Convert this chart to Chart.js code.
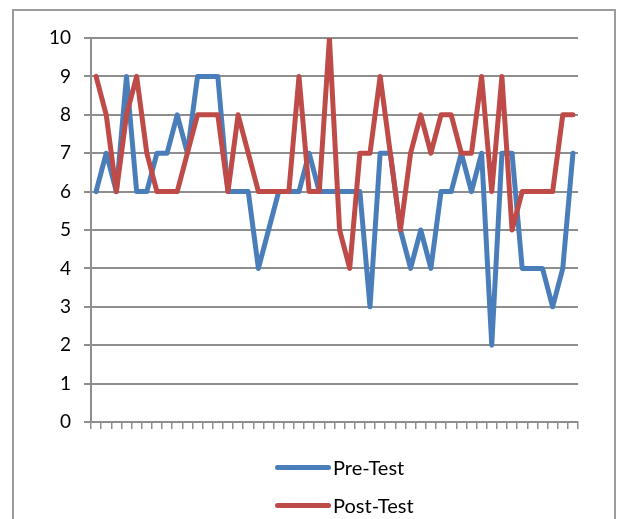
<!DOCTYPE html>
<html>
<head>
<meta charset="utf-8" />
<title>Pre-Test / Post-Test</title>
<script src="https://cdn.jsdelivr.net/npm/chart.js@4.4.0/dist/chart.umd.min.js"></script>
<style>
	html, body { margin: 0; padding: 0; background: #fff; overflow: hidden; }
	#wrap { position: relative; width: 617px; height: 519px; }
	#frame { position: absolute; left: 12px; top: 9px; width: 604px; height: 540px; border: 2px solid #9c9c9c; box-sizing: border-box; }
	#chart { position: absolute; left: 0; top: 0; }
	#legend { position: absolute; left: 275px; top: 448px; font-family: Lato, "Open Sans", sans-serif; font-size: 20px; color: #000; }
	.item { display: flex; align-items: center; height: 38px; }
	.swatch { width: 56px; height: 5px; border-radius: 3px; margin-right: 2px; }
</style>
</head>
<body>
<div id="wrap">
	<div id="frame"></div>
	<canvas id="chart" width="617" height="519"></canvas>
	<div id="legend"></div>
</div>

<script>
var students = [1,2,3,4,5,6,7,8,9,10,11,12,13,14,15,16,17,18,19,20,21,22,23,24,
	25,26,27,28,29,30,31,32,33,34,35,36,37,38,39,40,41,42,43,44,45,46,47,48];
var preTest  = [6,7,6,9,6,6,7,7,8,7,9,9,9,6,6,6,4,5,6,6,6,7,6,6,6,6,6,3,7,7,5,4,5,4,6,6,7,6,7,2,7,7,4,4,4,3,4,7];
var postTest = [9,8,6,8,9,7,6,6,6,7,8,8,8,6,8,7,6,6,6,6,9,6,6,10,5,4,7,7,9,7,5,7,8,7,8,8,7,7,9,6,9,5,6,6,6,6,8,8];
var yTicks = [0,1,2,3,4,5,6,7,8,9,10];

var gridColor = '#8e8e8e';

var chart = new Chart(document.getElementById('chart'), {
	type: 'line',
	data: {
		labels: students,
		datasets: [
			{
				label: 'Pre-Test',
				data: preTest,
				borderColor: '#4a7ebb',
				backgroundColor: '#4a7ebb',
				borderWidth: 5,
				pointRadius: 0,
				tension: 0,
				borderJoinStyle: 'round',
				borderCapStyle: 'round',
				order: 1
			},
			{
				label: 'Post-Test',
				data: postTest,
				borderColor: '#be4b48',
				backgroundColor: '#be4b48',
				borderWidth: 5,
				pointRadius: 0,
				tension: 0,
				borderJoinStyle: 'round',
				borderCapStyle: 'round',
				order: 0
			}
		]
	},
	options: {
		responsive: false,
		animation: false,
		layout: { padding: { left: 13, top: 38, right: 39, bottom: 90 } },
		plugins: {
			legend: { display: false },
			tooltip: { enabled: false }
		},
		scales: {
			x: {
				offset: true,
				grid: { offset: true, drawOnChartArea: false, drawTicks: true, tickLength: 7, color: gridColor, lineWidth: 1.5 },
				border: { display: true, color: gridColor, width: 2 },
				ticks: { display: false, autoSkip: false }
			},
			y: {
				min: 0,
				max: 10,
				afterBuildTicks: function(s) { s.ticks = yTicks.map(function(v){ return { value: v }; }); },
				afterFit: function(s) { s.width = 78; },
				grid: { color: gridColor, lineWidth: 2, drawTicks: true, tickLength: 7 },
				border: { display: true, color: gridColor, width: 2 },
				ticks: {
					padding: 13,
					color: '#000',
					font: { family: 'Lato, "Open Sans", sans-serif', size: 19 }
				}
			}
		}
	}
});

// legend stacked under the plot, like the original
var legend = document.getElementById('legend');
chart.data.datasets.forEach(function(ds) {
	var item = document.createElement('div');
	item.className = 'item';
	var sw = document.createElement('span');
	sw.className = 'swatch';
	sw.style.background = ds.borderColor;
	var txt = document.createElement('span');
	txt.textContent = ds.label;
	item.appendChild(sw);
	item.appendChild(txt);
	legend.appendChild(item);
});
</script>
</body>
</html>
